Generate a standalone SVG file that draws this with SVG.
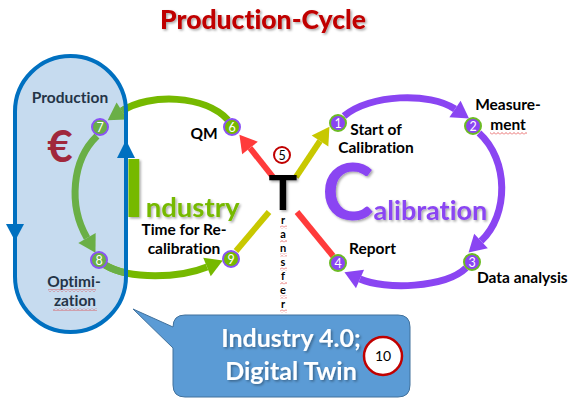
<svg xmlns="http://www.w3.org/2000/svg" width="572" height="404" viewBox="0 0 572 404">
<defs>
<style>
text{font-variant-ligatures:none}
.lbl{font-family:Lato,"Liberation Sans",sans-serif;font-weight:bold;font-size:15.5px;fill:#000}
.dark{fill:#243447}
.num{font-family:Lato,"Liberation Sans",sans-serif;font-size:12.5px;fill:#fff;text-anchor:middle}
.cp{fill:#8a45f2;stroke:#6cbb24;stroke-width:2}
.cg{fill:#76b900;stroke:#8a52f5;stroke-width:2}
.cgm{fill:#6aaf46;stroke:#8a52f5;stroke-width:2}
.arc{fill:none;stroke-width:7}
.ln{fill:none;stroke-width:6}
</style>
<filter id="sh" x="-20%" y="-20%" width="140%" height="140%"><feDropShadow dx="1.5" dy="1.5" stdDeviation="1" flood-color="#000" flood-opacity="0.35"/></filter>
<marker id="mG" markerUnits="userSpaceOnUse" viewBox="0 -11 18 22" refX="0" refY="0" markerWidth="18" markerHeight="22" orient="auto" overflow="visible"><path d="M0,-10 L17,0 L0,10 z" fill="#76b900"/></marker>
<marker id="mGm" markerUnits="userSpaceOnUse" viewBox="0 -11 18 22" refX="0" refY="0" markerWidth="18" markerHeight="22" orient="auto" overflow="visible"><path d="M0,-10 L17,0 L0,10 z" fill="#6aaf46"/></marker>
<marker id="mP" markerUnits="userSpaceOnUse" viewBox="0 -11 18 22" refX="0" refY="0" markerWidth="18" markerHeight="22" orient="auto" overflow="visible"><path d="M0,-10 L17,0 L0,10 z" fill="#8a45f2"/></marker>
<marker id="mR" markerUnits="userSpaceOnUse" viewBox="0 -11 18 22" refX="0" refY="0" markerWidth="18" markerHeight="22" orient="auto" overflow="visible"><path d="M0,-10 L17,0 L0,10 z" fill="#ff3b3b"/></marker>
<marker id="mY" markerUnits="userSpaceOnUse" viewBox="0 -11 18 22" refX="0" refY="0" markerWidth="18" markerHeight="22" orient="auto" overflow="visible"><path d="M0,-10 L17,0 L0,10 z" fill="#c8c800"/></marker>
<clipPath id="capClip"><path d="M15,111.5 A55.5,55.5 0 0 1 126,111.5 L126,276.5 A55.5,55.5 0 0 1 15,276.5 Z"/></clipPath>
<pattern id="wavy" width="4" height="3" patternUnits="userSpaceOnUse"><path d="M0,2.5 L2,0.5 L4,2.5" stroke="#e03030" stroke-width="0.7" fill="none"/></pattern>
</defs>

<rect width="572" height="404" fill="#fff"/>

<text x="263" y="29" text-anchor="middle" font-family="Lato,'Liberation Sans',sans-serif" font-weight="900" font-size="26.5" fill="#c00000" filter="url(#sh)">Production-Cycle</text>

<g id="capsule">
<path d="M15,111.5 A55.5,55.5 0 0 1 126,111.5 L126,276.5 A55.5,55.5 0 0 1 15,276.5 Z" fill="#c6dbef"/>
</g>

<g id="connectors">
<path class="arc" stroke="#76b900" d="M228,120 C205,95 150,93 122,111"/>
<path class="arc" stroke="#76b900" marker-end="url(#mG)" d="M105,265 C130,280 180,278 207,267"/>
<g clip-path="url(#capClip)">
<path class="arc" stroke="#6aaf46" marker-end="url(#mGm)" d="M228,120 C205,95 150,93 122,111"/>
<path class="arc" stroke="#6aaf46" d="M105,265 C130,280 180,278 207,267"/>
</g>
<path class="arc" stroke="#6aaf46" marker-end="url(#mGm)" d="M97,136 C72,160 68,205 87,238"/>

<path d="M15,111.5 A55.5,55.5 0 0 1 126,111.5 L126,276.5 A55.5,55.5 0 0 1 15,276.5 Z" fill="none" stroke="#0070c0" stroke-width="4"/>
<path d="M6,224 L24,224 L15,241 z" fill="#0070c0"/>
<path d="M117,158 L135,158 L126,140 z" fill="#0070c0"/>

<path class="ln" stroke="#ff3b3b" marker-end="url(#mR)" d="M273,177 L250,148"/>
<path class="ln" stroke="#c8c800" marker-end="url(#mY)" d="M296,177 L320,141"/>
<path class="ln" stroke="#c8c800" d="M269,212 L236,251"/>
<path class="ln" stroke="#ff3b3b" d="M297,212 L333,256"/>

<path class="arc" stroke="#8a45f2" marker-end="url(#mP)" d="M344,116 C370,94 430,92 455,109"/>
<path class="arc" stroke="#8a45f2" marker-end="url(#mP)" d="M479,133 C509,160 509,215 481,241"/>
<path class="arc" stroke="#8a45f2" marker-end="url(#mP)" d="M466,268 C445,288 385,290 360,279"/>
</g>

<g id="production">
<text class="lbl dark" x="70" y="103" text-anchor="middle">Production</text>
<text x="60" y="162" text-anchor="middle" font-family="Lato,'Liberation Sans',sans-serif" font-weight="bold" font-size="44" fill="#a0283c">€</text>
</g>
<g id="optimization">
<text class="lbl dark" x="74" y="287" text-anchor="middle">Optimi-</text>
<text class="lbl dark" x="75" y="306" text-anchor="middle">zation</text>
<rect x="48" y="289" width="48" height="3" fill="url(#wavy)"/>
<rect x="53" y="308" width="44" height="3" fill="url(#wavy)"/>
</g>

<g id="industry">
<text x="122" y="217" font-family="Lato,'Liberation Sans',sans-serif" font-weight="bold" fill="#76b900" filter="url(#sh)"><tspan font-size="80">I</tspan><tspan font-size="27.5">ndustry</tspan></text>
</g>
<g id="calibration">
<text x="322" y="220" font-family="Lato,'Liberation Sans',sans-serif" font-weight="bold" fill="#8a45f2" filter="url(#sh)"><tspan font-size="78">C</tspan><tspan font-size="27">alibration</tspan></text>
</g>

<g id="n1"><circle class="cp" cx="338" cy="123" r="8"/><text class="num" x="338" y="127.5">1</text>
<text class="lbl" x="376" y="135" text-anchor="middle">Start of</text><text class="lbl" x="376" y="153" text-anchor="middle">Calibration</text></g>
<g id="n2"><circle class="cp" cx="473" cy="126" r="8"/><text class="num" x="473" y="130.5">2</text>
<text class="lbl" x="508" y="110" text-anchor="middle">Measure-</text><text class="lbl" x="508" y="130" text-anchor="middle">ment</text>
<rect x="490" y="132" width="37" height="3" fill="url(#wavy)"/></g>
<g id="n3"><circle class="cp" cx="472" cy="262" r="8"/><text class="num" x="472" y="266.5">3</text>
<text class="lbl" x="477" y="283">Data analysis</text></g>
<g id="n4"><circle class="cp" cx="338" cy="263" r="8"/><text class="num" x="338" y="267.5">4</text>
<text class="lbl" x="349" y="254">Report</text></g>

<g id="n5"><circle cx="282" cy="155" r="8" fill="#fff" stroke="#c00000" stroke-width="2"/><text x="282" y="159.5" text-anchor="middle" font-family="Lato,'Liberation Sans',sans-serif" font-size="12.5">5</text></g>

<g id="transfer">
<text x="283" y="210" text-anchor="middle" font-family="Lato,'Liberation Sans',sans-serif" font-weight="bold" font-size="48" fill="#000" filter="url(#sh)">T</text>
<g font-family="Lato,'Liberation Sans',sans-serif" font-weight="bold" font-size="11" text-anchor="middle">
<text x="283" y="224">r</text><text x="283" y="238">a</text><text x="283" y="252">n</text><text x="283" y="266">s</text><text x="283" y="280">f</text><text x="283" y="294">e</text><text x="283" y="308">r</text>
</g>
<g fill="url(#wavy)">
<rect x="280" y="225.5" width="7" height="3"/><rect x="280" y="239.5" width="7" height="3"/><rect x="280" y="253.5" width="7" height="3"/><rect x="280" y="267.5" width="7" height="3"/><rect x="280" y="281.5" width="7" height="3"/><rect x="280" y="295.5" width="7" height="3"/><rect x="280" y="309.5" width="7" height="3"/>
</g>
</g>

<g id="n6"><circle class="cg" cx="232" cy="127" r="8"/><text class="num" x="232" y="131.5">6</text>
<text class="lbl" x="204" y="139" text-anchor="middle">QM</text></g>
<g id="n7"><circle class="cgm" cx="100" cy="127" r="8"/><text class="num" x="100" y="131.5">7</text></g>
<g id="n8"><circle class="cgm" cx="99" cy="260" r="8"/><text class="num" x="99" y="264.5">8</text></g>
<g id="n9"><circle class="cg" cx="231" cy="259" r="8"/><text class="num" x="231" y="263.5">9</text>
<text class="lbl" x="184" y="235" text-anchor="middle">Time for Re-</text><text class="lbl" x="184" y="254" text-anchor="middle">calibration</text></g>

<g id="n10">
<path d="M185,315 H398 Q410,315 410,327 V385 Q410,397 398,397 H185 Q173,397 173,385 V348 L133,309 L173,327 Q173,315 185,315 Z" fill="#5b9bd5" stroke="#41719c" stroke-width="1"/>
<g font-family="Lato,'Liberation Sans',sans-serif" font-weight="bold" font-size="25" fill="#fff" text-anchor="middle" filter="url(#sh)">
<text x="291" y="347">Industry 4.0;</text>
<text x="291" y="380">Digital Twin</text>
</g>
<circle cx="383" cy="356" r="19" fill="#fff" stroke="#c00000" stroke-width="2.5"/>
<text x="383" y="361" text-anchor="middle" font-family="Lato,'Liberation Sans',sans-serif" font-size="14">10</text>
</g>
</svg>
